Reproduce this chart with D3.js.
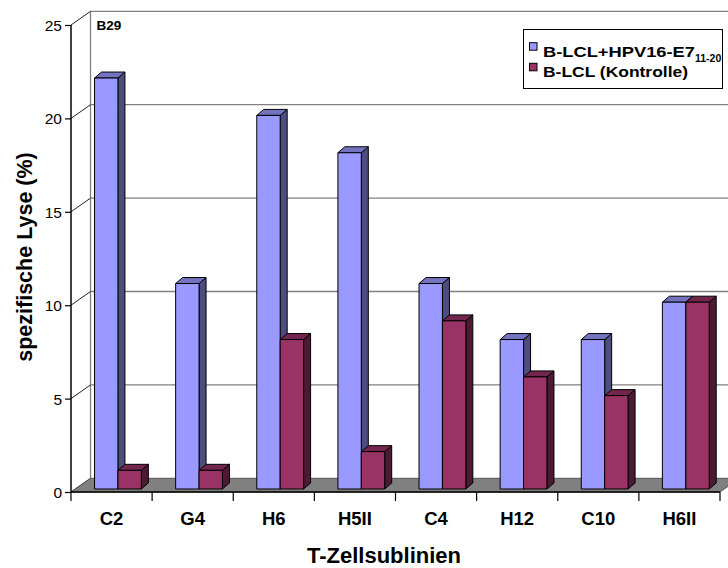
<!DOCTYPE html>
<html>
<head>
<meta charset="utf-8">
<script src="https://cdn.jsdelivr.net/npm/d3@7"></script>
<style>
  html, body { margin: 0; padding: 0; background: #fff; }
  svg { display: block; font-family: Arial, "Liberation Sans", sans-serif; }
</style>
</head>
<body>
<svg id="chart" width="728" height="568"></svg>
<script>
// Specific lysis (%) per T-cell subline
const categories = ["C2", "G4", "H6", "H5II", "C4", "H12", "C10", "H6II"];
const peptideLysis = [22, 11, 20, 18, 11, 8, 8, 10];   // B-LCL + HPV16-E7 11-20
const controlLysis = [1, 1, 8, 2, 9, 6, 5, 10];        // B-LCL (Kontrolle)
const yTicks = [0, 5, 10, 15, 20, 25];

const seriesNames = ["B-LCL+HPV16-E7", "B-LCL (Kontrolle)"];
const seriesValues = [peptideLysis, controlLysis];
const palette = [
  { front: "#9999ff", side: "#4d4d80", top: "#7373c0" },
  { front: "#993366", side: "#4d1a33", top: "#73264d" }
];

const svg = d3.select("#chart");

// front plane of the 3D box
const plotLeft = 71, plotRight = 720, plotBottom = 492, plotTop = 25;
// depth of the box (back wall offset)
const depthX = 19.5, depthY = -13.7;
// offset of the bar row inside the box and bar thickness
const barOffX = 0, barOffY = -3;
const barDX = 7, barDY = -6;

const y = d3.scaleLinear().domain([0, 25]).range([plotBottom, plotTop]);
const x = d3.scaleBand().domain(categories).range([plotLeft, plotRight]).paddingInner(0).paddingOuter(0);
const barW = x.bandwidth() * 0.2885;
const groupStart = x.bandwidth() * 0.29;

const gridColor = "#808080";

// back wall: gridlines and frame
const back = svg.append("g");
back.selectAll("line.grid")
  .data(yTicks.filter(t => t > 0))
  .join("line")
  .attr("x1", plotLeft + depthX).attr("x2", 728)
  .attr("y1", d => y(d) + depthY).attr("y2", d => y(d) + depthY)
  .attr("stroke", gridColor).attr("stroke-width", 1.3);
back.append("line")
  .attr("x1", plotLeft + depthX).attr("x2", plotLeft + depthX)
  .attr("y1", y(25) + depthY).attr("y2", y(0) + depthY)
  .attr("stroke", gridColor).attr("stroke-width", 1.3);

// side wall connectors from the value axis to the back wall
back.selectAll("line.conn")
  .data(yTicks)
  .join("line")
  .attr("x1", plotLeft).attr("x2", plotLeft + depthX)
  .attr("y1", d => y(d)).attr("y2", d => y(d) + depthY)
  .attr("stroke", "#222").attr("stroke-width", 1);

// floor
svg.append("polygon")
  .attr("points", [
    [plotLeft, plotBottom], [plotRight, plotBottom],
    [plotRight + depthX, plotBottom + depthY], [plotLeft + depthX, plotBottom + depthY]
  ].map(p => p.join(",")).join(" "))
  .attr("fill", "#808080")
  .attr("stroke", "#555").attr("stroke-width", 1);

// bars, left to right so neighbouring faces overlap correctly
const bars = svg.append("g").attr("stroke", "#000").attr("stroke-width", 1).attr("stroke-linejoin", "round");
categories.forEach((cat, ci) => {
  seriesValues.forEach((vals, si) => {
    const v = vals[ci];
    const x0 = x(cat) + groupStart + si * barW + barOffX;
    const x1 = x0 + barW;
    const yb = y(0) + barOffY;
    const yt = y(v) + barOffY;
    const c = palette[si];
    const g = bars.append("g");
    g.append("polygon")
      .attr("points", [[x1, yb], [x1 + barDX, yb + barDY], [x1 + barDX, yt + barDY], [x1, yt]].map(p => p.join(",")).join(" "))
      .attr("fill", c.side);
    g.append("polygon")
      .attr("points", [[x0, yt], [x1, yt], [x1 + barDX, yt + barDY], [x0 + barDX, yt + barDY]].map(p => p.join(",")).join(" "))
      .attr("fill", c.top);
    g.append("rect")
      .attr("x", x0).attr("y", yt).attr("width", barW).attr("height", yb - yt)
      .attr("fill", c.front);
  });
});

// value axis
const yAxis = svg.append("g").attr("transform", `translate(${plotLeft},0)`)
  .call(d3.axisLeft(y).tickValues(yTicks).tickSize(6).tickPadding(3).tickFormat(d3.format("d")));
yAxis.select(".domain").attr("stroke", "#000").attr("stroke-width", 1.5).attr("d", `M0,${y(25)}V${y(0)}`);
yAxis.selectAll(".tick line").attr("stroke", "#000").attr("stroke-width", 1.2);
yAxis.selectAll(".tick text").attr("font-size", 15.5).attr("fill", "#000")
  .attr("font-family", "Arial, 'Liberation Sans', sans-serif").attr("dy", "0.36em");

// category axis
const xAxis = svg.append("g").attr("transform", `translate(0,${plotBottom})`)
  .call(d3.axisBottom(x).tickSize(0).tickPadding(20));
xAxis.select(".domain").attr("stroke", "#000").attr("stroke-width", 1.5).attr("d", `M${plotLeft},0H${plotRight}`);
xAxis.selectAll(".tick text").attr("font-size", 18.5).attr("font-weight", "bold").attr("fill", "#000")
  .attr("font-family", "Arial, 'Liberation Sans', sans-serif");
// tick marks on the category boundaries
const bounds = categories.map(c => x(c)).concat([plotRight]);
xAxis.selectAll("line.bound")
  .data(bounds)
  .join("line")
  .attr("x1", d => d).attr("x2", d => d)
  .attr("y1", 0).attr("y2", 9)
  .attr("stroke", "#000").attr("stroke-width", 1.2);

// axis titles
svg.append("text")
  .attr("x", 384).attr("y", 563)
  .attr("text-anchor", "middle")
  .attr("font-size", 22).attr("font-weight", "bold")
  .text("T-Zellsublinien");
svg.append("text")
  .attr("transform", "translate(32,257) rotate(-90)")
  .attr("text-anchor", "middle")
  .attr("font-size", 21.5).attr("font-weight", "bold")
  .text("spezifische Lyse (%)");

// panel label
svg.append("text")
  .attr("x", 96.5).attr("y", 29.5)
  .attr("font-size", 13.5).attr("font-weight", "bold")
  .text("B29");

// legend
const legend = svg.append("g");
legend.append("rect")
  .attr("x", 523.5).attr("y", 29.5).attr("width", 199).attr("height", 59)
  .attr("fill", "#fff").attr("stroke", "#000").attr("stroke-width", 1);
const rowY = [56.7, 77.3];
const labelWidths = [152, 145];
seriesNames.forEach((name, i) => {
  legend.append("rect")
    .attr("x", 529.5).attr("y", rowY[i] - 14).attr("width", 7.5).attr("height", 7.5)
    .attr("fill", palette[i].front).attr("stroke", "#000").attr("stroke-width", 1);
  legend.append("text")
    .attr("x", 543).attr("y", rowY[i])
    .attr("font-size", 15).attr("font-weight", "bold")
    .attr("textLength", labelWidths[i]).attr("lengthAdjust", "spacingAndGlyphs")
    .text(name);
  if (i === 0) {
    legend.append("text")
      .attr("x", 695).attr("y", rowY[i] + 5)
      .attr("font-size", 10.5).attr("font-weight", "bold")
      .text("11-20");
  }
});
</script>
</body>
</html>
